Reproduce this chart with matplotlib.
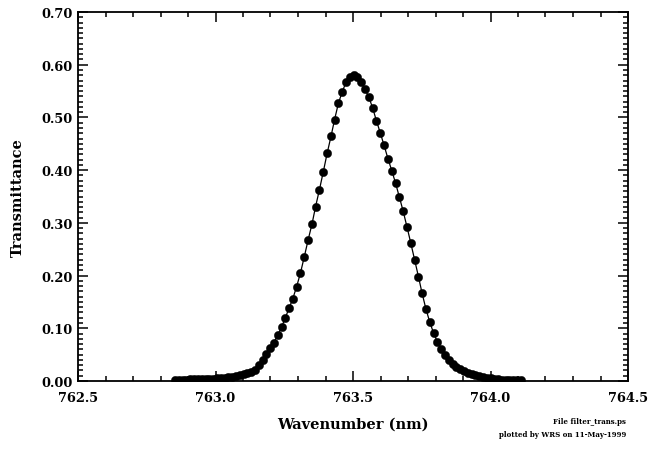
import matplotlib
matplotlib.use("Agg")
import matplotlib.pyplot as plt
from matplotlib.ticker import MultipleLocator, FormatStrFormatter

# Wavelength samples (nm)
wavelength = [
    762.853, 762.867, 762.881, 762.894, 762.908, 762.922, 762.936, 762.950,
    762.964, 762.977, 762.991, 763.005, 763.019, 763.033, 763.046, 763.060,
    763.074, 763.088, 763.102, 763.116, 763.129, 763.143, 763.157, 763.171,
    763.185, 763.199, 763.212, 763.226, 763.240, 763.254, 763.268, 763.281,
    763.295, 763.309, 763.323, 763.337, 763.351, 763.364, 763.378, 763.392,
    763.406, 763.420, 763.433, 763.447, 763.461, 763.475, 763.489, 763.503,
    763.516, 763.530, 763.544, 763.558, 763.572, 763.585, 763.599, 763.613,
    763.627, 763.641, 763.655, 763.668, 763.682, 763.696, 763.710, 763.724,
    763.738, 763.751, 763.765, 763.779, 763.793, 763.807, 763.820, 763.834,
    763.848, 763.862, 763.876, 763.890, 763.903, 763.917, 763.931, 763.945,
    763.959, 763.972, 763.986, 764.000, 764.014, 764.028, 764.042, 764.055,
    764.069, 764.083, 764.097, 764.111,
]

# Filter transmittance
transmittance = [
    0.002, 0.002, 0.002, 0.002, 0.003, 0.003, 0.003, 0.003,
    0.004, 0.004, 0.004, 0.005, 0.005, 0.006, 0.007, 0.008,
    0.009, 0.011, 0.013, 0.015, 0.017, 0.021, 0.030, 0.040,
    0.051, 0.062, 0.073, 0.087, 0.102, 0.120, 0.139, 0.156,
    0.179, 0.205, 0.236, 0.268, 0.298, 0.331, 0.363, 0.397,
    0.432, 0.464, 0.496, 0.527, 0.549, 0.567, 0.576, 0.580,
    0.576, 0.567, 0.553, 0.538, 0.517, 0.494, 0.471, 0.447,
    0.422, 0.399, 0.375, 0.350, 0.323, 0.293, 0.262, 0.230,
    0.198, 0.167, 0.137, 0.112, 0.091, 0.074, 0.061, 0.049,
    0.040, 0.032, 0.027, 0.023, 0.019, 0.016, 0.013, 0.011,
    0.0095, 0.0076, 0.006, 0.0048, 0.0038, 0.003, 0.0025, 0.002,
    0.0017, 0.0014, 0.0012, 0.001,
]

x_label = "Wavenumber (nm)"
y_label = "Transmittance"
footer_lines = ["File filter_trans.ps", "plotted by WRS on 11-May-1999"]

plt.rcParams["font.family"] = ["DejaVu Serif"]
plt.rcParams["font.weight"] = "bold"

fig = plt.figure(figsize=(6.57, 4.52), dpi=100)
ax = fig.add_axes([78 / 657, 70 / 452, 550 / 657, 369 / 452])

ax.plot(wavelength, transmittance, color="black", linewidth=0.9,
        marker="o", markersize=6.0, markerfacecolor="black",
        markeredgecolor="black", markeredgewidth=0.3)

ax.set_xlim(762.5, 764.5)
ax.set_ylim(0.0, 0.70)
ax.xaxis.set_major_locator(MultipleLocator(0.5))
ax.xaxis.set_minor_locator(MultipleLocator(0.1))
ax.yaxis.set_major_locator(MultipleLocator(0.1))
ax.yaxis.set_minor_locator(MultipleLocator(0.01))
ax.xaxis.set_major_formatter(FormatStrFormatter("%.1f"))
ax.yaxis.set_major_formatter(FormatStrFormatter("%.2f"))

for s in ax.spines.values():
    s.set_linewidth(1.3)
ax.tick_params(which="both", direction="in", top=True, right=True,
               width=1.1, labelsize=9.3)
ax.tick_params(which="major", length=7)
ax.tick_params(which="minor", length=3.5)
ax.tick_params(axis="x", which="major", pad=7)
ax.tick_params(axis="y", which="major", pad=4)
for lbl in ax.get_xticklabels() + ax.get_yticklabels():
    lbl.set_fontweight("bold")

ax.set_xlabel(x_label, fontsize=10.5, fontweight="bold", labelpad=9)
ax.set_ylabel(y_label, fontsize=10.5, fontweight="bold", labelpad=12)

fig.text(626 / 657, 1 - 422 / 452, footer_lines[0], ha="right", va="center",
         fontsize=5, fontweight="bold")
fig.text(626 / 657, 1 - 435 / 452, footer_lines[1], ha="right", va="center",
         fontsize=5, fontweight="bold")

fig.savefig("out.png", dpi=100)
